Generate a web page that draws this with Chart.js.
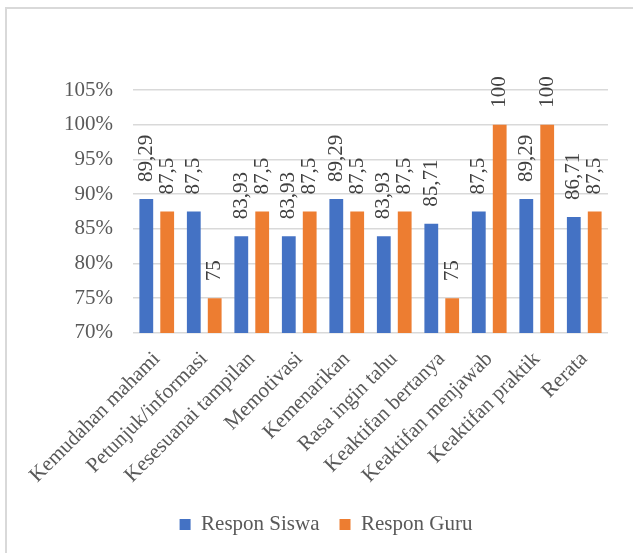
<!DOCTYPE html>
<html>
<head>
<meta charset="utf-8">
<script src="https://cdn.jsdelivr.net/npm/chart.js@4"></script>
<style>
    html, body { margin: 0; padding: 0; background: #ffffff; overflow: hidden; }
    #wrap { position: relative; width: 633px; height: 553px; }
    #frame { position: absolute; left: 5px; top: 7px; width: 700px; height: 700px; border: 2px solid #d9d9d9; box-sizing: border-box; }
    #chart { position: absolute; left: 0; top: 0; }
</style>
</head>
<body>
<div id="wrap">
    <div id="frame"></div>
    <canvas id="chart" width="633" height="553"></canvas>
</div>
<script>
var categories = [
    "Kemudahan mahami",
    "Petunjuk/informasi",
    "Kesesuanai tampilan",
    "Memotivasi",
    "Kemenarikan",
    "Rasa ingin tahu",
    "Keaktifan bertanya",
    "Keaktifan menjawab",
    "Keaktifan praktik",
    "Rerata",
];
var responSiswa = [89.29, 87.5, 83.93, 83.93, 89.29, 83.93, 85.71, 87.5, 89.29, 86.71];
var responGuru = [87.5, 75, 87.5, 87.5, 87.5, 87.5, 75, 100, 100, 87.5];
var yTicks = [70, 75, 80, 85, 90, 95, 100, 105];

var fontFamily = "Liberation Serif";
Chart.defaults.font.family = fontFamily;
Chart.defaults.font.size = 21;
Chart.defaults.color = "#595959";

// etiquetas verticales encima de cada barra
var barLabels = {
    id: "barLabels",
    afterDatasetsDraw(chart) {
        var ctx = chart.ctx;
        ctx.save();
        ctx.font = "21px \"" + fontFamily + "\", serif";
        ctx.fillStyle = "#404040";
        ctx.textAlign = "left";
        ctx.textBaseline = "middle";
        chart.data.datasets.forEach((ds, i) => {
            chart.getDatasetMeta(i).data.forEach((bar, j) => {
                var txt = String(ds.data[j]).replace(".", ",");
                ctx.save();
                ctx.translate(bar.x, bar.y - 17);
                ctx.rotate(-Math.PI / 2);
                ctx.fillText(txt, 0, 0);
                ctx.restore();
            });
        });
        ctx.restore();
    },
};

new Chart(document.getElementById("chart"), {
    type: "bar",
    data: {
        labels: categories,
        datasets: [
            {
                label: "Respon Siswa",
                data: responSiswa,
                backgroundColor: "#4472C4",
                barPercentage: 0.66,
                categoryPercentage: 0.88,
            },
            {
                label: "Respon Guru",
                data: responGuru,
                backgroundColor: "#ED7D31",
                barPercentage: 0.66,
                categoryPercentage: 0.88,
            },
        ],
    },
    options: {
        responsive: false,
        animation: false,
        layout: {
            padding: { top: 90, right: 25, left: 44, bottom: 8 },
        },
        scales: {
            x: {
                grid: { display: false },
                border: { display: false },
                ticks: {
                    autoSkip: false,
                    minRotation: 45,
                    maxRotation: 45,
                    padding: 6,
                },
            },
            y: {
                min: 70,
                max: 105,
                afterBuildTicks: (axis) => {
                    axis.ticks = yTicks.map((v) => ({ value: v }));
                },
                grid: { color: "#d9d9d9", lineWidth: 1.5, drawTicks: false },
                border: { display: false },
                ticks: {
                    padding: 20,
                    callback: (v) => v + "%",
                },
            },
        },
        plugins: {
            legend: {
                position: "bottom",
                labels: {
                    boxWidth: 11,
                    boxHeight: 11,
                    padding: 20,
                },
            },
            tooltip: { enabled: false },
        },
    },
    plugins: [barLabels],
});
</script>
</body>
</html>
